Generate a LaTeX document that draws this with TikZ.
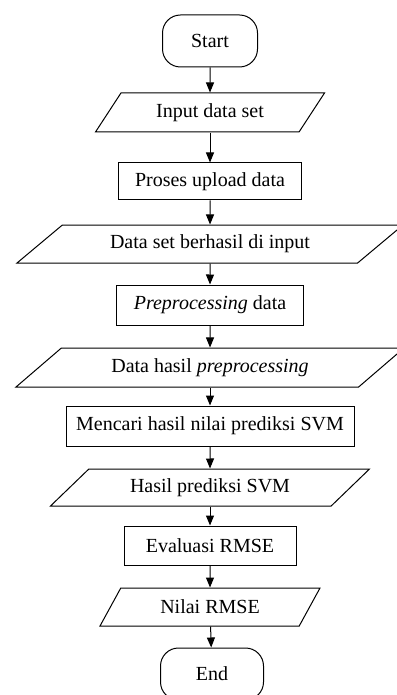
\documentclass[tikz,border=0pt]{standalone}
\usepackage{fontspec}
\setmainfont{Liberation Serif}
\usetikzlibrary{shapes.geometric,arrows.meta}
\tikzset{
  terminal/.style={draw,rounded corners=9pt,minimum width=47.5pt,minimum height=26pt,inner sep=1pt},
  proses/.style={draw,rectangle,minimum height=19pt,inner sep=1pt},
  io/.style={draw,trapezium,trapezium stretches body,minimum height=19pt,inner sep=1pt},
}
\begin{document}
\begin{tikzpicture}[x=0.5pt,y=-0.5pt,>={Triangle[width=4pt,length=5pt]},line width=0.5pt,font=\fontsize{10}{12}\selectfont]
				\useasboundingbox (0,0) rectangle (396,695);
				\node[terminal] (start) at (210,41) {Start};
				\node[io,trapezium left angle=41,trapezium right angle=139,minimum width=114.5pt,minimum height=19.5pt] (in1) at (210,112.5) {Input data set};
				\node[proses,minimum width=91.5pt,minimum height=18.5pt] (p1) at (210,181.5) {Proses upload data};
				\node[io,trapezium left angle=26,trapezium right angle=154,minimum width=193pt] (in2) at (210,244) {Data set berhasil di input};
				\node[proses,minimum width=93.5pt,minimum height=20pt] (p2) at (210,305) {\textit{Preprocessing} data};
				\node[io,trapezium left angle=26,trapezium right angle=154,minimum width=194pt,minimum height=19.5pt] (in3) at (210,367.5) {Data hasil \textit{preprocessing}};
				\node[proses,minimum width=144pt,minimum height=20pt] (p3) at (210,426) {Mencari hasil nilai prediksi SVM};
				\node[io,trapezium left angle=30,trapezium right angle=150,minimum width=159.5pt,minimum height=18.5pt] (in4) at (210,487.5) {Hasil prediksi SVM};
				\node[proses,minimum width=86pt,minimum height=19.5pt] (p4) at (210,545.5) {Evaluasi RMSE};
				\node[io,trapezium left angle=41,trapezium right angle=139,minimum width=110pt] (in5) at (210,607) {Nilai RMSE};
				\node[terminal,minimum width=51.5pt] (end) at (212,674) {End};
				\foreach \a/\b in {start/in1,in1/p1,p1/in2,in2/p2,p2/in3,in3/p3,p3/in4,in4/p4,p4/in5,in5/end}{
					\draw[->] (\a) -- (\b);
				}
			\end{tikzpicture}
\end{document}
